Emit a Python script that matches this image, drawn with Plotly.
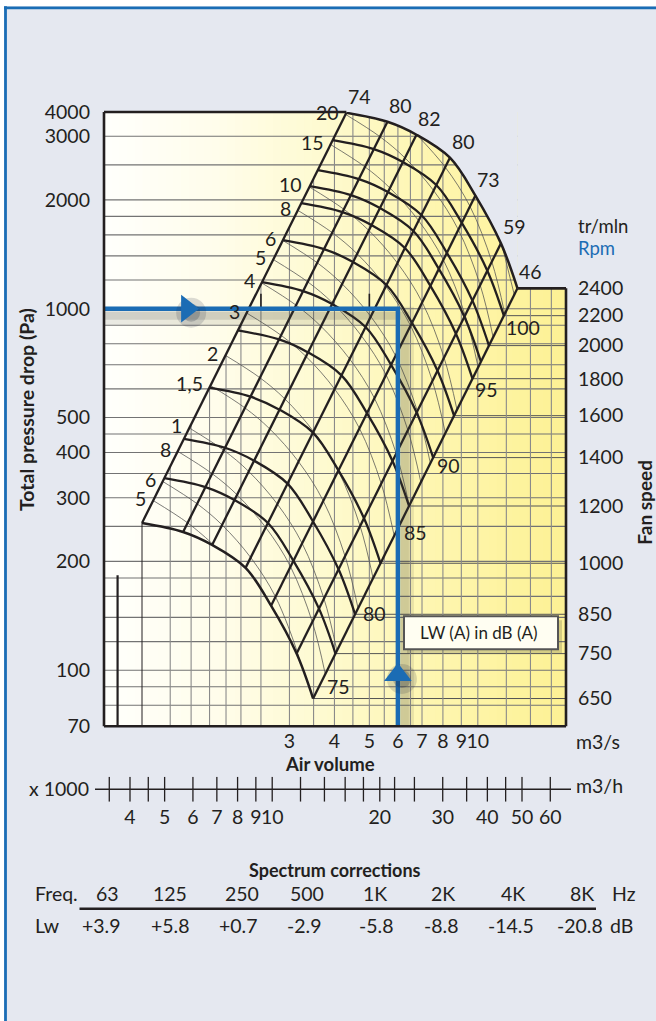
import math
import plotly.graph_objects as go

# ------------------------------------------------------------------ data
base_rpm = 650                                   # lowest fan curve
base_q = [1.169, 1.520, 1.830, 2.266, 2.667, 3.140, 3.490]   # m3/s where the 7 diagonals cut the 650 rpm curve
base_p = [255.4, 241.2, 222.1, 191.9, 150.8, 111.2, 83.5]    # Pa
efficiency = [74, 80, 82, 80, 73, 59, 46]        # % (labels on the top arc)
max_rpm = 2400
curve_rpm = [650, 750, 850, 1000, 1200, 1400, 1600, 1800, 1900, 2000, 2200, 2400]
rpm_ticks = [650, 750, 850, 1000, 1200, 1400, 1600, 1800, 2000, 2200, 2400]
rpm_lines = [650, 750, 850, 1000, 1200, 1400, 1600, 1800, 2000, 2200]
power_kw = [0.5, 0.6, 0.8, 1, 1.5, 2, 3, 4, 5, 6, 8, 10, 15, 20]
power_text = ["5", "6", "8", "1", "1,5", "2", "3", "4", "5", "6", "8", "10", "15", "20"]
power_kw_unlabelled = [25, 30]
lw_db = [75, 80, 85, 90, 95, 100]
lw_rpm = [676, 852, 1104, 1366, 1739, 2121]
p_ticks = [70, 100, 200, 300, 400, 500, 1000, 2000, 3000]
p_ticktext = ["70", "100", "200", "300", "400", "500", "1000", "2000", "3000"]
p_top_text = "4000"
p_grid = [80, 90, 100, 120, 140, 160, 180, 200, 250, 300, 350, 400, 450, 500,
          600, 700, 800, 900, 1000, 1200, 1400, 1600, 1800, 2000, 2500, 3000]
q_ticks = [3, 4, 5, 6, 7, 8, 9, 10]
q_grid = [1.4, 1.6, 1.8, 2.0, 2.2, 2.5, 3, 3.5, 4, 4.5, 5, 5.5, 6, 6.5, 7, 8, 9, 10, 12, 14, 16]
leader_q = 1.0
leader_p = 183
mark_q = [2.5, 5]          # small marks above the duty line
mark_p = [1000, 1100]
m3h_labels = [4, 5, 6, 7, 8, 9, 10, 20, 30, 40, 50, 60]
m3h_marks = [3.5, 4, 4.5, 5, 6, 7, 8, 9, 10, 12, 14, 16, 18, 20, 22, 25, 30, 35, 40, 45, 50, 60]
duty_q = 6
duty_p = 1000
arrow_q = 1.56
arrow_p = 97
spec_freq = ["63", "125", "250", "500", "1K", "2K", "4K", "8K"]
spec_lw = ["+3.9", "+5.8", "+0.7", "-2.9", "-5.8", "-8.8", "-14.5", "-20.8"]

# ------------------------------------------------------------------ geometry / style
W, H = 656, 1021
BOX_L, BOX_R, BOX_T, BOX_B = 104, 566, 112, 728.3
PAPER_B = H - 20
PAPER_H = PAPER_B - BOX_T
PAPER_W = BOX_R - BOX_L
XR = [-0.0377, 1.2448]
YR = [math.log10(70), math.log10(3500)]
P_TOP = 10 ** YR[1]
Q_MIN, Q_MAX = 10 ** XR[0], 10 ** XR[1]
P_FAR, Q_FAR = 10 ** (YR[1] + 0.6), 10 ** (XR[1] + 0.6)
PAGE = "#e5e8f0"
INK = "#231f20"
BLUE = "#1b6cb4"
FONT = "Lato"
FS = 19.5          # number font size


def px_x(px):
    return (px - BOX_L) / PAPER_W


def px_y(py):
    return (PAPER_B - py) / PAPER_H


def xd(q):
    return (math.log10(q) - XR[0]) / (XR[1] - XR[0])


def yd(p):
    return (math.log10(p) - YR[0]) / (YR[1] - YR[0])


def curve_at(n):
    r = n / base_rpm
    return [q * r for q in base_q], [p * r * r for p in base_p]


R = max_rpm / base_rpm
top_q, top_p = curve_at(max_rpm)
q_end, p_end = top_q[-1], top_p[-1]

fig = go.Figure()


def add_line(xs, ys, color, width, shape="linear", xa="x", ya="y", **kw):
    fig.add_trace(go.Scatter(x=xs, y=ys, mode="lines",
                             line=dict(color=color, width=width, shape=shape),
                             xaxis=xa, yaxis=ya, hoverinfo="skip",
                             showlegend=False, **kw))


# horizontal pressure grid
xs, ys = [], []
for p in p_grid:
    xs += [Q_MIN, Q_MAX, None]
    ys += [p, p, None]
add_line(xs, ys, "#737373", 1.1)

# rpm lines in the right-hand block
xs, ys = [], []
for n in rpm_lines:
    r = n / base_rpm
    xs += [base_q[-1] * r, Q_MAX, None]
    ys += [base_p[-1] * r * r, base_p[-1] * r * r, None]
add_line(xs, ys, "#555555", 1.0)

# vertical volume grid (stops at left diagonal)
xs, ys = [], []
for q in q_grid:
    top = min(base_p[0] * (q / base_q[0]) ** 2, P_TOP)
    xs += [q, q, None]
    ys += [70, top, None]
add_line(xs, ys, "#8a8a8a", 1.1)

# leaders
add_line([leader_q, leader_q], [70, leader_p], INK, 2.2)
add_line([base_q[0], base_q[0]], [70, base_p[0]], INK, 1.0)

# mask outside the top arc
fig.add_trace(go.Scatter(x=top_q, y=top_p, mode="lines", line=dict(color=PAGE, width=0.5, shape="spline"),
                         hoverinfo="skip", showlegend=False))
fig.add_trace(go.Scatter(x=top_q, y=[P_FAR] * len(top_q), mode="lines", line=dict(color=PAGE, width=0.5),
                         fill="tonexty", fillcolor=PAGE, hoverinfo="skip", showlegend=False))
fig.add_trace(go.Scatter(x=[q_end, Q_FAR, Q_FAR, q_end, q_end], y=[p_end, p_end, P_FAR, P_FAR, p_end],
                         mode="lines", line=dict(color=PAGE, width=0.5), fill="toself", fillcolor=PAGE,
                         hoverinfo="skip", showlegend=False))

# iso-power lines
P0 = [q * p / (e / 100.0) for q, p, e in zip(base_q, base_p, efficiency)]
LO, HI = math.log10(base_rpm), math.log10(max_rpm)
lq = [math.log10(q) for q in base_q]
lp = [math.log10(p) for p in base_p]


def iso_power(P_kw):
    L = [LO + (math.log10(P_kw * 1000) - math.log10(v)) / 3 for v in P0]
    pts = []
    for k in range(len(L)):
        if k > 0:
            for b in (HI, LO):
                a1, a2 = L[k - 1] - b, L[k] - b
                if a1 * a2 < 0:
                    f = a1 / (a1 - a2)
                    pts.append((lq[k - 1] + f * (lq[k] - lq[k - 1]), lp[k - 1] + f * (lp[k] - lp[k - 1]), b))
        if LO <= L[k] <= HI:
            pts.append((lq[k], lp[k], L[k]))
    xq = [10 ** (a + (l - LO)) for a, _, l in pts]
    yp = [10 ** (b + 2 * (l - LO)) for _, b, l in pts]
    return xq, yp, L[0]


annotations = []
xs, ys = [], []
for P, txt_ in zip(power_kw, power_text):
    xq, yp, l0 = iso_power(P)
    xs += xq + [None]
    ys += yp + [None]
    r = 10 ** (l0 - LO)
    annotations.append(dict(x=math.log10(base_q[0] * r), y=math.log10(base_p[0] * r * r), text=txt_,
                            xanchor="right", yanchor="middle", xshift=-5, yshift=2, showarrow=False,
                            font=dict(size=FS, color=INK)))
for P in power_kw_unlabelled:
    xq, yp, _ = iso_power(P)
    xs += xq + [None]
    ys += yp + [None]
add_line(xs, ys, "#505050", 0.75, shape="spline")

# fan curves
for n in curve_rpm:
    cq, cp = curve_at(n)
    add_line(cq, cp, INK, 2.5 if n in (base_rpm, max_rpm) else 2.3, shape="spline")

# diagonals
xs, ys = [], []
for q, p in zip(base_q, base_p):
    xs += [q, q * R, None]
    ys += [p, p * R * R, None]
add_line(xs, ys, INK, 2.3)

# small marks above the duty line
xs, ys = [], []
for q in mark_q:
    xs += [q, q, None]
    ys += [mark_p[0], mark_p[1], None]
add_line(xs, ys, INK, 1.6)

# blue duty lines + shadow
fx, fy = 10 ** (7 / 360.0), 10 ** (-7 / 362.7)
add_line([Q_MIN, duty_q * fx, duty_q * fx], [duty_p * fy, duty_p * fy, 70], "rgba(70,75,60,0.12)", 18)
add_line([Q_MIN, duty_q * fx, duty_q * fx], [duty_p * fy, duty_p * fy, 70], "rgba(60,60,50,0.14)", 8)
add_line([Q_MIN, duty_q, duty_q], [duty_p, duty_p, 70], BLUE, 4.5)
sx, sy = 10 ** (4 / 360.0), 10 ** (-4 / 362.7)
fig.add_trace(go.Scatter(x=[arrow_q * sx, duty_q * sx], y=[duty_p * sy, arrow_p * sy], mode="markers",
                         marker=dict(symbol="circle", size=30, color="rgba(30,40,60,0.16)", line=dict(width=0)),
                         hoverinfo="skip", showlegend=False))
fig.add_trace(go.Scatter(x=[arrow_q * sx, duty_q * sx], y=[duty_p * sy, arrow_p * sy], mode="markers",
                         marker=dict(symbol="circle", size=18, color="rgba(30,40,60,0.22)", line=dict(width=0)),
                         hoverinfo="skip", showlegend=False))
fig.add_trace(go.Scatter(x=[arrow_q, duty_q], y=[duty_p, arrow_p], mode="markers",
                         marker=dict(symbol=["triangle-right", "triangle-up"], size=24, color=BLUE,
                                     line=dict(width=0)),
                         hoverinfo="skip", showlegend=False))

# m3/h scale tick marks
xs, ys = [], []
for m in m3h_marks:
    xs += [m, m, None]
    ys += [-1, 1, None]
add_line(xs, ys, INK, 1.3, xa="x2", ya="y2")

# invisible trace for the rpm axis
fig.add_trace(go.Scatter(x=[6], y=[1000], mode="markers", marker=dict(opacity=0), yaxis="y3",
                         hoverinfo="skip", showlegend=False))

# efficiency labels on the top arc
for q, p, e in zip(top_q, top_p, efficiency):
    annotations.append(dict(x=math.log10(q), y=math.log10(p), text=str(e), xanchor="left", yanchor="bottom",
                            xshift=0, yshift=3, showarrow=False, font=dict(size=FS, color=INK)))
# sound power labels on the right diagonal
for db, n in zip(lw_db, lw_rpm):
    r = n / base_rpm
    annotations.append(dict(x=math.log10(base_q[-1] * r), y=math.log10(base_p[-1] * r * r), text=str(db),
                            xanchor="left", yanchor="middle", xshift=6, yshift=0, showarrow=False,
                            font=dict(size=FS, color=INK)))


def txt(px, py, text, size=FS, anchor="center", bold=False, color=INK, angle=0):
    annotations.append(dict(xref="paper", yref="paper", x=px_x(px), y=px_y(py),
                            text=("<b>%s</b>" % text) if bold else text,
                            xanchor=anchor, yanchor="middle", showarrow=False, textangle=angle,
                            font=dict(size=size, color=color, family=FONT)))


txt(27, 411, "Total pressure drop (Pa)", 19.5, bold=True, angle=-90)
txt(645, 504, "Fan speed", 19, bold=True, angle=-90)
txt(576, 226, "tr/mln", 18.5, anchor="left")
txt(576, 248, "Rpm", 18.5, anchor="left", color=BLUE)
txt(574, 744, "m3/s", FS, anchor="left")
txt(330, 766, "Air volume", 18.5, bold=True)
txt(91, 791, "x 1000", FS, anchor="right")
txt(574, 788, "m3/h", FS, anchor="left")
txt(479, 634.5, "LW (A) in dB (A)", 17)
txt(335, 873, "Spectrum corrections", 18, bold=True)
txt(33, 896, "Freq.", FS, anchor="left")
txt(33, 928, "Lw", FS, anchor="left")
freq_x = [107.7, 169.5, 241.6, 306.5, 374.5, 442.5, 512.5, 581.5]
lw_x = [101.5, 170.5, 238.5, 304.4, 375.5, 441.4, 510.5, 579.5]
for f, x in zip(spec_freq, freq_x):
    txt(x, 896, f, FS)
for v, x in zip(spec_lw, lw_x):
    txt(x, 928, v, FS)
txt(624, 896, "Hz", FS)
txt(621, 928, "dB", FS)

# ------------------------------------------------------------------ shapes
shapes = []
stops = [(104, (255, 255, 252)), (220, (255, 253, 234)), (330, (254, 250, 206)),
         (430, (254, 246, 176)), (566, (253, 241, 148))]


def grad(px):
    for (a, ca), (b, cb) in zip(stops[:-1], stops[1:]):
        if a <= px <= b:
            t = (px - a) / (b - a)
            return "rgb(%d,%d,%d)" % tuple(round(ca[i] + t * (cb[i] - ca[i])) for i in range(3))
    return "rgb(%d,%d,%d)" % stops[-1][1]


N = 60
for i in range(N):
    cx = BOX_L + (i + 0.5) / N * PAPER_W
    shapes.append(dict(type="rect", xref="x domain", yref="y domain", x0=i / N,
                       x1=min((i + 1) / N + 0.002, 1.0),
                       y0=0, y1=1, fillcolor=grad(cx), line=dict(width=0), layer="below"))

frame = dict(color=INK, width=2.6)
shapes += [
    dict(type="line", xref="x domain", yref="y domain", x0=0, x1=0, y0=0, y1=1, line=frame),
    dict(type="line", xref="x domain", yref="y domain", x0=0, x1=1, y0=0, y1=0, line=frame),
    dict(type="line", xref="x domain", yref="y domain", x0=0, x1=xd(top_q[0]), y0=1, y1=1, line=frame),
    dict(type="line", xref="x domain", yref="y domain", x0=xd(q_end), x1=1, y0=yd(p_end), y1=yd(p_end), line=frame),
    dict(type="line", xref="x domain", yref="y domain", x0=1, x1=1, y0=yd(p_end), y1=0, line=frame),
]
# LW box
shapes.append(dict(type="rect", xref="paper", yref="paper", x0=px_x(407), x1=px_x(562), y0=px_y(655), y1=px_y(622),
                   fillcolor="rgba(90,90,70,0.25)", line=dict(width=0)))
shapes.append(dict(type="rect", xref="paper", yref="paper", x0=px_x(404), x1=px_x(558), y0=px_y(651), y1=px_y(618),
                   fillcolor="#fffef2", line=dict(color="#555555", width=2)))
# m3/h axis line
shapes.append(dict(type="line", xref="paper", yref="y2", x0=px_x(95), x1=px_x(571), y0=0, y1=0,
                   line=dict(color=INK, width=1.4)))
# spectrum rule
shapes.append(dict(type="line", xref="paper", yref="paper", x0=px_x(79.5), x1=px_x(596), y0=px_y(911.5),
                   y1=px_y(911.5), line=dict(color=INK, width=2.6)))
# page border
shapes.append(dict(type="rect", xref="paper", yref="paper", x0=px_x(-5), x1=px_x(4), y0=px_y(1030), y1=px_y(-5),
                   fillcolor="white", line=dict(width=0), layer="below"))
shapes.append(dict(type="rect", xref="paper", yref="paper", x0=px_x(-5), x1=px_x(700), y0=px_y(6), y1=px_y(-5),
                   fillcolor="white", line=dict(width=0), layer="below"))
shapes.append(dict(type="line", xref="paper", yref="paper", x0=px_x(5.5), x1=px_x(5.5), y0=px_y(1030), y1=px_y(6),
                   line=dict(color="#1a6db5", width=2.8)))
shapes.append(dict(type="line", xref="paper", yref="paper", x0=px_x(4), x1=px_x(700), y0=px_y(7.5), y1=px_y(7.5),
                   line=dict(color="#1a6db5", width=2.8)))

tickfont = dict(size=FS, color=INK, family=FONT)
y_dom = [px_y(BOX_B), 1.0]
fig.update_layout(
    width=W, height=H,
    margin=dict(l=BOX_L, r=W - BOX_R, t=BOX_T, b=H - PAPER_B, pad=0),
    paper_bgcolor=PAGE, plot_bgcolor="rgba(0,0,0,0)",
    font=dict(family=FONT, color=INK),
    showlegend=False,
    xaxis=dict(type="log", range=XR, domain=[0, 1], anchor="y", tickvals=q_ticks,
               ticktext=[str(v) for v in q_ticks], showgrid=False, zeroline=False, showline=False,
               ticks="", tickfont=tickfont, ticklabelstandoff=1, tickangle=0),
    yaxis=dict(type="log", range=YR, domain=y_dom, anchor="x", tickvals=p_ticks + [P_TOP],
               ticktext=p_ticktext + [p_top_text], showgrid=False, zeroline=False, showline=False,
               ticks="", tickfont=tickfont, ticklabelstandoff=13),
    yaxis3=dict(type="log", overlaying="y", side="right", anchor="x",
                range=[math.log10(base_rpm * math.sqrt(70 / base_p[-1])),
                       math.log10(base_rpm * math.sqrt(P_TOP / base_p[-1]))],
                tickvals=rpm_ticks, ticktext=[str(v) for v in rpm_ticks], showgrid=False, zeroline=False,
                showline=False, ticks="", tickfont=tickfont, ticklabelstandoff=11),
    xaxis2=dict(type="log", range=[0.5293, 1.8221], domain=[0, 1], anchor="y2", tickvals=m3h_labels,
                ticktext=[str(v) for v in m3h_labels], showgrid=False, zeroline=False, showline=False,
                ticks="", tickfont=tickfont, ticklabelstandoff=2, tickangle=0),
    yaxis2=dict(range=[-1, 1], domain=[px_y(804), px_y(779)], anchor="x2", showgrid=False, zeroline=False,
                showline=False, showticklabels=False, ticks=""),
    shapes=shapes,
    annotations=annotations,
)

fig.write_html("out.html", config={"displayModeBar": False},
               post_script="document.body.style.margin='0';document.body.style.overflow='hidden';")
